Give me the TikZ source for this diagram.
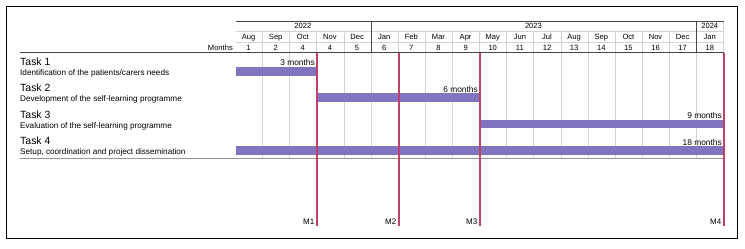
\documentclass[tikz,border=0pt]{standalone}
\usepackage{fontspec}
\setmainfont{Liberation Sans}
\definecolor{barc}{RGB}{128,117,190}
\definecolor{milec}{RGB}{192,64,110}
\definecolor{gridc}{RGB}{210,210,210}
\definecolor{hdrc}{RGB}{70,70,70}
\definecolor{midc}{RGB}{150,150,150}
\begin{document}
\begin{tikzpicture}[x=1bp,y=-1bp,
  tasktitle/.style={anchor=base west,inner sep=0pt,font=\fontsize{10.5}{12}\selectfont},
  taskdesc/.style={anchor=base west,inner sep=0pt,font=\fontsize{8.2}{10}\selectfont},
  hdrtxt/.style={anchor=base,inner sep=0pt,font=\fontsize{7.6}{9}\selectfont},
  durtxt/.style={anchor=base east,inner sep=0pt,font=\fontsize{8.4}{10}\selectfont},
  miletxt/.style={anchor=base east,inner sep=0pt,font=\fontsize{8}{10}\selectfont},
  gantbar/.style={fill=barc,draw=none},
  gridline/.style={draw=gridc,line width=1bp},
  mileline/.style={draw=milec,line width=2bp}]
\useasboundingbox (0,0) rectangle (745,248);
\draw[black,line width=1bp] (6.5,6.5) rectangle (737.5,238.5);
% column boundaries
\foreach \i in {0,...,18}{
  \pgfmathtruncatemacro\r{round(235+\i*27.13)}
  \coordinate (c\i) at (\r.5,0);
}
\coordinate (yTop) at (0,21.5);
\coordinate (yY) at (0,31.5);
\coordinate (yM) at (0,42.5);
\coordinate (yH) at (0,52.5);
\coordinate (yB) at (0,158.5);
\coordinate (yE) at (0,226);
% grid lines
\foreach \i in {1,2,3,4,6,7,8,9,10,11,12,13,14,15,16}
  \draw[gridline] (c\i |- yY) -- (c\i |- yB);
\draw[gridline] (c17 |- yH) -- (c17 |- yB);
\draw[gridline] (c5 |- yH) -- (c5 |- yB);
\draw[gridline] (c18 |- yTop) -- (c18 |- yH);
% header lines
\draw[draw=hdrc,line width=1bp] (c0 |- yTop) -- (c18 |- yTop);
\draw[draw=gridc,line width=1bp] (c0 |- yY) -- (c18 |- yY);
\draw[draw=gridc,line width=1bp] (c0 |- yM) -- (c18 |- yM);
\draw[draw=hdrc,line width=1.3bp] (c5 |- yTop) -- (c5 |- yH);
\draw[draw=hdrc,line width=1bp] (c17 |- yTop) -- (c17 |- yH);
\draw[draw=hdrc,line width=1.3bp] (20,52.5) -- (c18 |- yH);
\draw[draw=midc,line width=1.2bp] (20,158.5) -- (c18 |- yB);
% bars
\fill[gantbar] (c0 |- 0,67) rectangle (c3 |- 0,75.8);
\fill[gantbar] (c3 |- 0,93.4) rectangle (c9 |- 0,102.2);
\fill[gantbar] (c9 |- 0,119.8) rectangle (c18 |- 0,128.4);
\fill[gantbar] (c0 |- 0,146.3) rectangle (c18 |- 0,154.6);
% milestones
\draw[mileline] (c3 |- yH) -- (c3 |- yE);
\draw[mileline] (c6 |- yH) -- (c6 |- yE);
\draw[mileline] (c9 |- yH) -- (c9 |- yE);
\draw[mileline] (c18 |- yH) -- (c18 |- yE);
% header texts
\node[hdrtxt] (y2022) at ({235+2.5*27.13},28.3) {2022};
\node[hdrtxt] (y2023) at ({235+11*27.13},28.3) {2023};
\node[hdrtxt] (y2024) at ({235+17.5*27.13},28.3) {2024};
\foreach \m [count=\k from 0] in {Aug,Sep,Oct,Nov,Dec,Jan,Feb,Mar,Apr,May,Jun,Jul,Aug,Sep,Oct,Nov,Dec,Jan}
  \node[hdrtxt] (mon\k) at ({235+(\k+0.5)*27.13},39) {\m};
\foreach \n [count=\k from 0] in {1,2,4,4,5,6,7,8,9,10,11,12,13,14,15,16,17,18}
  \node[hdrtxt] (num\k) at ({235+(\k+0.5)*27.13},50) {\n};
\node[hdrtxt,anchor=base east] (months) at (233,50) {Months};
% tasks
\node[tasktitle] (t1) at (20,65.5) {Task 1};
\node[taskdesc] (d1) at (20,75.3) {Identification of the patients/carers needs};
\node[tasktitle] (t2) at (20,91.9) {Task 2};
\node[taskdesc] (d2) at (20,101.7) {Development of the self-learning programme};
\node[tasktitle] (t3) at (20,118.3) {Task 3};
\node[taskdesc] (d3) at (20,128.1) {Evaluation of the self-learning programme};
\node[tasktitle] (t4) at (20,144.7) {Task 4};
\node[taskdesc] (d4) at (20,154.5) {Setup, coordination and project dissemination};
\node[durtxt] (dur1) at ([xshift=-1.5bp]c3 |- 0,65.5) {3 months};
\node[durtxt] (dur2) at ([xshift=-1.5bp]c9 |- 0,92.2) {6 months};
\node[durtxt] (dur3) at ([xshift=-1.5bp]c18 |- 0,118.6) {9 months};
\node[durtxt] (dur4) at ([xshift=-1.5bp]c18 |- 0,145) {18 months};
\node[miletxt] (labM1) at ([xshift=-2bp]c3 |- 0,224.5) {M1};
\node[miletxt] (labM2) at ([xshift=-2bp]c6 |- 0,224.5) {M2};
\node[miletxt] (labM3) at ([xshift=-2bp]c9 |- 0,224.5) {M3};
\node[miletxt] (labM4) at ([xshift=-2bp]c18 |- 0,224.5) {M4};
\end{tikzpicture}
\end{document}
